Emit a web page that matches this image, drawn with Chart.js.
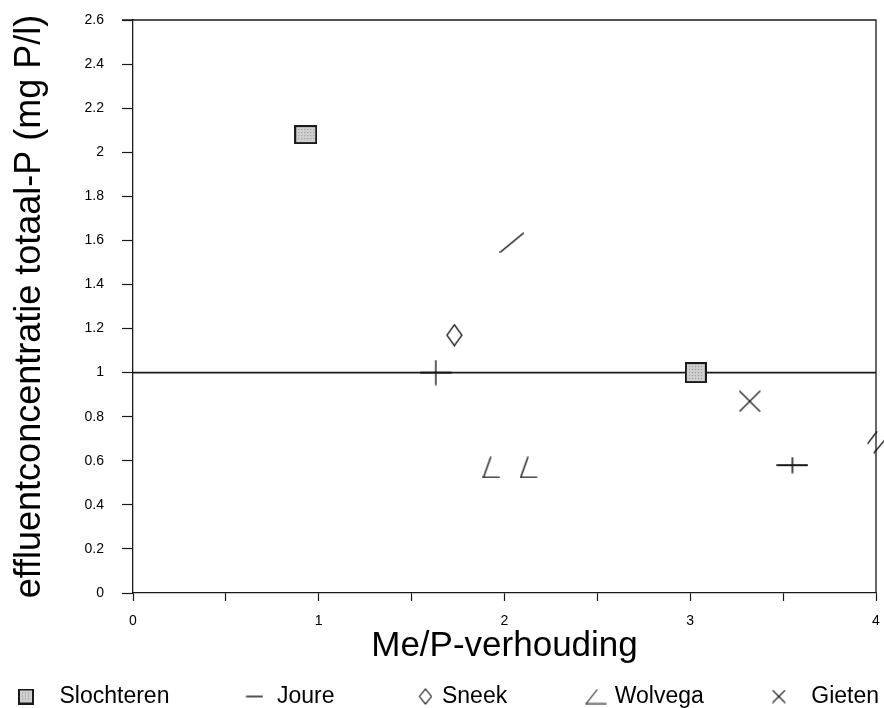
<!DOCTYPE html>
<html lang="nl">
<head>
<meta charset="utf-8">
<title>Effluentconcentratie totaal-P</title>
<script src="https://cdn.jsdelivr.net/npm/chart.js@4.4.1/dist/chart.umd.min.js"></script>
<style>
    html, body { margin: 0; padding: 0; background: #fff; }
    #wrap { width: 884px; height: 708px; }
</style>
</head>
<body>
<div id="wrap"><canvas id="grafiek"></canvas></div>
<script>
// Gegevens
const zuiveringen = ['Slochteren', 'Joure', 'Sneek', 'Wolvega', 'Gieten']

const slochterenX = [0.93, 3.03]
const slochterenY = [2.08, 1.0]
const joureX = [1.63, 3.55]
const joureY = [1.0, 0.58]
const sneekX = [1.73]
const sneekY = [1.17]
const wolvegaX = [1.93, 2.13]
const wolvegaY = [0.57, 0.57]
const gietenX = [3.32]
const gietenY = [0.87]

// Merktekens zonder legenda (legenda afgesneden in de bron)
const streepX = [1.63, 3.55]
const streepY = [1.0, 0.58]
const schuinX = [2.04]
const schuinY = [1.59]
const dubbelX = [4.0]
const dubbelY = [0.685]

// Norm van 1 mg P/l
const normX = [0, 4]
const normY = [1, 1]

const xTickWaarden = [0, 0.5, 1, 1.5, 2, 2.5, 3, 3.5, 4]
const xTickLabels = ['0', '', '1', '', '2', '', '3', '', '4']
const yTickWaarden = [0, 0.2, 0.4, 0.6, 0.8, 1, 1.2, 1.4, 1.6, 1.8, 2, 2.2, 2.4, 2.6]
const yTickLabels = ['0', '0.2', '0.4', '0.6', '0.8', '1', '1.2', '1.4', '1.6', '1.8', '2', '2.2', '2.4', '2.6']

const inkt = '#1a1a1a'
const lettertype = '"Liberation Sans", Arial, Helvetica, sans-serif'

// Legenda loopt over de volle breedte: iets buiten de layout laten uitsteken
const randLinks = 48
const randRechts = 30

// Hulpjes om merktekens op een klein canvas te tekenen
function maakMarker(breedte, hoogte, teken, dikte = 1.5, verschuiving = 0) {
    const c = document.createElement('canvas')
    c.width = breedte + 2 * Math.max(verschuiving, 0)
    c.height = hoogte
    const ctx = c.getContext('2d')
    ctx.strokeStyle = inkt
    ctx.lineWidth = dikte
    ctx.lineCap = 'round'
    ctx.translate(c.width - breedte, 0)
    teken(ctx, breedte, hoogte)
    return c
}

function lijn(ctx, x1, y1, x2, y2) {
    ctx.beginPath()
    ctx.moveTo(x1, y1)
    ctx.lineTo(x2, y2)
    ctx.stroke()
}

function vierkant(ctx, w, h) {
    ctx.fillStyle = '#cfcfcf'
    ctx.fillRect(2, 2, w - 4, h - 4)
    ctx.fillStyle = '#8f8f8f'
    for (let x = 4; x < w - 3; x += 3) {
        for (let y = 4; y < h - 3; y += 3) {
            ctx.fillRect(x, y, 1, 1)
        }
    }
    ctx.lineWidth = 2
    ctx.strokeRect(1, 1, w - 2, h - 2)
}

function ruit(ctx, w, h) {
    ctx.beginPath()
    ctx.moveTo(w / 2, 1)
    ctx.lineTo(w - 1, h / 2)
    ctx.lineTo(w / 2, h - 1)
    ctx.lineTo(1, h / 2)
    ctx.closePath()
    ctx.stroke()
}

function hoek(ctx, w, h) {
    lijn(ctx, 1, h - 1, w * 0.45, 1)
    lijn(ctx, 1, h - 1, w - 1, h - 1)
}

function kruis(ctx, w, h) {
    lijn(ctx, 1, 1, w - 1, h - 1)
    lijn(ctx, w - 1, 1, 1, h - 1)
}

function streep(ctx, w, h) {
    lijn(ctx, 1, h / 2, w - 1, h / 2)
}

function staand(ctx, w, h) {
    lijn(ctx, w / 2, 1, w / 2, h - 1)
}

const markers = {
    slochteren: [maakMarker(23, 19, vierkant), maakMarker(22, 21, vierkant)],
    joure: maakMarker(32, 4, streep, 1.8),
    sneek: maakMarker(17, 23, ruit, 1.3),
    wolvega: maakMarker(18, 22, hoek, 1.4),
    gieten: maakMarker(22, 22, kruis, 1.2),
    streep: [maakMarker(4, 26, staand, 1.4), maakMarker(4, 17, staand, 1.6)],
    schuin: maakMarker(25, 21, (ctx, w, h) => lijn(ctx, 1, h - 1, w - 1, 1), 1.6),
    dubbel: maakMarker(18, 23, (ctx, w, h) => {
        lijn(ctx, 1, h * 0.55, w * 0.55, 1)
        lijn(ctx, w * 0.4, h - 1, w - 1, h * 0.45)
    }, 1.4)
}

// Legendatekens: het teken staat rechts in een breder, doorzichtig canvas
const legendaMarkers = {
    Slochteren: maakMarker(16, 16, vierkant, 1.5, 21),
    Joure: maakMarker(18, 4, streep, 1.5, 32),
    Sneek: maakMarker(14, 17, ruit, 1.2, 38),
    Wolvega: maakMarker(22, 16, (ctx, w, h) => {
        lijn(ctx, 1, h - 1, w * 0.55, 1)
        lijn(ctx, 1, h - 1, w - 1, h - 1)
    }, 1.1, 36),
    Gieten: maakMarker(14, 14, kruis, 1.1, 22)
}

function punten(xs, ys) {
    return xs.map((x, i) => ({ x, y: ys[i] }))
}

// Kader boven en rechts van het grafiekvlak
const kader = {
    id: 'kader',
    afterDatasetsDraw(chart) {
        const { ctx, chartArea: a } = chart
        ctx.save()
        ctx.strokeStyle = inkt
        ctx.lineWidth = 1.3
        ctx.beginPath()
        ctx.moveTo(a.left - 11, a.top)
        ctx.lineTo(a.right, a.top)
        ctx.lineTo(a.right, a.bottom)
        ctx.stroke()
        ctx.restore()
    }
}

const grafiek = new Chart(document.getElementById('grafiek'), {
    type: 'scatter',
    data: {
        datasets: [
            {
                type: 'line',
                label: 'norm',
                data: punten(normX, normY),
                borderColor: inkt,
                borderWidth: 1.8,
                pointRadius: 0,
                order: 10
            },
            { label: 'Slochteren', data: punten(slochterenX, slochterenY), pointStyle: markers.slochteren },
            { label: 'Joure', data: punten(joureX, joureY), pointStyle: markers.joure },
            { label: 'Sneek', data: punten(sneekX, sneekY), pointStyle: markers.sneek },
            { label: 'Wolvega', data: punten(wolvegaX, wolvegaY), pointStyle: markers.wolvega },
            { label: 'Gieten', data: punten(gietenX, gietenY), pointStyle: markers.gieten },
            { label: 'streep', data: punten(streepX, streepY), pointStyle: markers.streep },
            { label: 'schuin', data: punten(schuinX, schuinY), pointStyle: markers.schuin },
            { label: 'dubbel', data: punten(dubbelX, dubbelY), pointStyle: markers.dubbel, clip: false }
        ]
    },
    options: {
        responsive: true,
        maintainAspectRatio: false,
        animation: false,
        layout: {
            autoPadding: false,
            padding: { left: -randLinks, right: -randRechts, top: 20, bottom: -10 }
        },
        elements: {
            point: { radius: 6, hoverRadius: 6, borderWidth: 0 }
        },
        plugins: {
            tooltip: { enabled: false },
            legend: {
                position: 'bottom',
                align: 'start',
                labels: {
                    usePointStyle: true,
                    pointStyleWidth: 86,
                    padding: 10,
                    color: '#000',
                    font: { family: lettertype, size: 23 },
                    generateLabels: (chart) => {
                        const items = Chart.defaults.plugins.legend.labels.generateLabels(chart)
                        return items
                            .filter(item => zuiveringen.includes(item.text))
                            .map(item => ({ ...item, pointStyle: legendaMarkers[item.text], lineWidth: 0 }))
                    }
                }
            }
        },
        scales: {
            x: {
                type: 'linear',
                min: 0,
                max: 4,
                afterBuildTicks: (scale) => {
                    scale.ticks = xTickWaarden.map(v => ({ value: v }))
                },
                afterFit: (scale) => {
                    scale.height = 82
                    // labels mogen buiten het vlak uitsteken
                    scale.paddingLeft = 0
                    scale.paddingRight = 0
                },
                ticks: {
                    autoSkip: false,
                    maxRotation: 0,
                    padding: 12,
                    color: '#000',
                    font: { family: lettertype, size: 14 },
                    callback: (value, index) => xTickLabels[index]
                },
                grid: {
                    drawOnChartArea: false,
                    tickLength: 8,
                    tickColor: inkt,
                    tickWidth: 1.2
                },
                border: { color: inkt, width: 1.3 },
                title: {
                    display: true,
                    text: 'Me/P-verhouding',
                    color: '#000',
                    font: { family: lettertype, size: 35 },
                    padding: { top: 0, bottom: 8 }
                }
            },
            y: {
                min: 0,
                max: 2.6,
                afterBuildTicks: (scale) => {
                    scale.ticks = yTickWaarden.map(v => ({ value: v }))
                },
                afterFit: (scale) => {
                    scale.width = 133 + randLinks
                    scale.paddingTop = 0
                    scale.paddingBottom = 0
                },
                ticks: {
                    padding: 18,
                    color: '#000',
                    font: { family: lettertype, size: 14 },
                    callback: (value, index) => yTickLabels[index]
                },
                grid: {
                    drawOnChartArea: false,
                    tickLength: 11,
                    tickColor: inkt,
                    tickWidth: 1.2
                },
                border: { color: inkt, width: 1.3 },
                title: {
                    display: true,
                    text: 'effluentconcentratie totaal-P (mg P/l)',
                    color: '#000',
                    font: { family: lettertype, size: 36 },
                    padding: { top: 8 + randLinks, bottom: 0 }
                }
            },
            // Lege as rechts die alleen ruimte inneemt
            rechts: {
                position: 'right',
                display: true,
                ticks: { display: false },
                grid: { display: false },
                border: { display: false },
                afterFit: (scale) => {
                    scale.width = 8 + randRechts
                }
            }
        }
    },
    plugins: [kader]
})
</script>
</body>
</html>
